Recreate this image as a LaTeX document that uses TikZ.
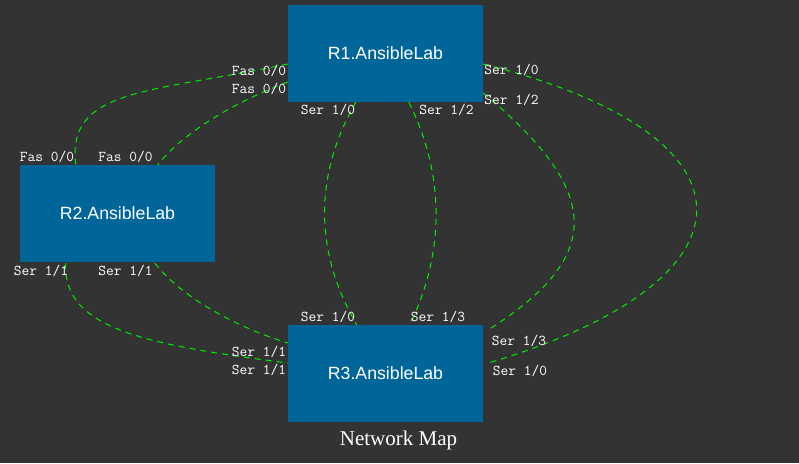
\documentclass[tikz,border=0pt]{standalone}
\usepackage{fontspec}
\newfontfamily\boxfont{Liberation Sans}
\newfontfamily\titlefont{Liberation Serif}
\definecolor{bgc}{HTML}{333333}
\definecolor{boxc}{HTML}{006699}
\definecolor{linkc}{HTML}{00EE00}
\begin{document}
\begin{tikzpicture}[x=1pt,y=-1pt,
  router/.style={fill=boxc,draw=none,minimum width=195pt,minimum height=97pt,inner sep=0,
    text=white,font=\boxfont\fontsize{17.7}{20}\selectfont},
  port/.style={text=white,inner sep=0,font=\ttfamily\fontsize{15}{16}\selectfont},
  link/.style={draw=linkc,line width=1pt,dash pattern=on 6pt off 5pt}]
\useasboundingbox (0,0) rectangle (799,463);
\fill[bgc] (0,0) rectangle (799,463);
\node[router] (R1) at (385.5,53.5) {R1.AnsibleLab};
\node[router] (R2) at (117.5,213.5) {R2.AnsibleLab};
\node[router] (R3) at (385.5,373.5) {R3.AnsibleLab};
% links
\draw[link] ([shift={(0,10.5)}]R1.west) .. controls (150,93) and (66,88) .. ([shift={(56,0)}]R2.north west);
\draw[link] ([shift={(0,28.5)}]R1.west) .. controls (240,100) and (185,130) .. ([shift={(138,0)}]R2.north west);
\draw[link] ([shift={(68,0)}]R1.south west) .. controls (314,175) and (314,252) .. ([shift={(69,0)}]R3.north west);
\draw[link] ([shift={(121,0)}]R1.south west) .. controls (445,175) and (445,252) .. ([shift={(122,0)}]R3.north west);
\draw[link] ([shift={(0,39.5)}]R1.east) .. controls (600,190) and (607,255) .. ([shift={(5,5)}]R3.north east);
\draw[link] ([shift={(0,10.5)}]R1.east) .. controls (767,135) and (767,280) .. ([shift={(5,-10.5)}]R3.east);
\draw[link] ([shift={(135,1)}]R2.south west) .. controls (180,295) and (230,325) .. ([shift={(0,-30.5)}]R3.west);
\draw[link] ([shift={(46,1)}]R2.south west) .. controls (62,330) and (150,345) .. ([shift={(0,-10.5)}]R3.west);
% port labels
\node[port] (f1) at (259,71) {Fas 0/0};
\node[port] (f2) at (259,89) {Fas 0/0};
\node[port] (f3) at (47,157) {Fas 0/0};
\node[port] (f4) at (125.5,157) {Fas 0/0};
\node[port] (s1) at (511.5,70) {Ser 1/0};
\node[port] (s2) at (511.5,100) {Ser 1/2};
\node[port] (s3) at (328,110) {Ser 1/0};
\node[port] (s4) at (446.5,110) {Ser 1/2};
\node[port] (s5) at (328,317) {Ser 1/0};
\node[port] (s6) at (438,317) {Ser 1/3};
\node[port] (s7) at (519,341) {Ser 1/3};
\node[port] (s8) at (520,371) {Ser 1/0};
\node[port] (s9) at (259,352) {Ser 1/1};
\node[port] (s10) at (259,370) {Ser 1/1};
\node[port] (s11) at (41,271) {Ser 1/1};
\node[port] (s12) at (125.5,271) {Ser 1/1};
\node[anchor=base,text=white,inner sep=0,font=\titlefont\fontsize{21}{24}\selectfont] (title) at (398.5,445) {Network Map};
\end{tikzpicture}
\end{document}
